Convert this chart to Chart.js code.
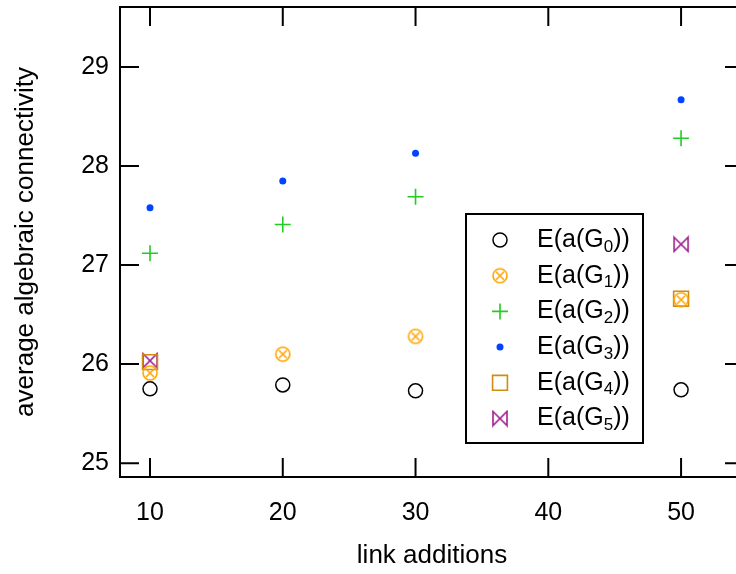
<!DOCTYPE html>
<html>
<head>
<meta charset="utf-8">
<script src="https://cdn.jsdelivr.net/npm/chart.js@4.4.0/dist/chart.umd.min.js"></script>
<style>
  html, body { margin: 0; padding: 0; background: #fff; overflow: hidden; }
  canvas { display: block; margin-top: -11px; }
</style>
</head>
<body>
<canvas id="chart" width="750" height="585"></canvas>
<script>
// values
const linkAdditions = [10, 20, 30, 50];
const g0 = [25.75, 25.79, 25.73, 25.74];
const g1 = [25.91, 26.10, 26.28, 26.65];
const g2 = [27.12, 27.41, 27.69, 28.28];
const g3 = [27.58, 27.85, 28.13, 28.67];
const g4 = [26.02, null, null, 26.66];
const g5 = [26.035, null, null, 27.21];
const subscripts = ['0', '1', '2', '3', '4', '5'];
const xTicks = [10, 20, 30, 40, 50];
const yTicks = [25, 26, 27, 28, 29];

const FONT = "'Liberation Sans', Arial, sans-serif";
const SHIFT = 11; // canvas is pulled up by this much in CSS

function makeMarker(size, draw) {
  const c = document.createElement('canvas');
  c.width = size;
  c.height = size;
  const ctx = c.getContext('2d');
  draw(ctx, size / 2);
  return c;
}

// circle with an x inside
const circleX = makeMarker(18, (ctx, m) => {
  ctx.strokeStyle = '#ffa500';
  ctx.lineWidth = 1.6;
  ctx.beginPath();
  ctx.arc(m, m, 7, 0, Math.PI * 2);
  ctx.stroke();
  ctx.beginPath();
  ctx.moveTo(m - 4, m - 4); ctx.lineTo(m + 4, m + 4);
  ctx.moveTo(m + 4, m - 4); ctx.lineTo(m - 4, m + 4);
  ctx.stroke();
});

// bowtie
const bowtie = makeMarker(18, (ctx, m) => {
  ctx.strokeStyle = '#a0208f';
  ctx.lineWidth = 1.6;
  ctx.beginPath();
  ctx.moveTo(m - 7, m - 7);
  ctx.lineTo(m + 7, m + 7);
  ctx.lineTo(m + 7, m - 7);
  ctx.lineTo(m - 7, m + 7);
  ctx.closePath();
  ctx.stroke();
});

function toPoints(ys) {
  return linkAdditions.map((x, i) => ({ x: x, y: ys[i] })).filter(p => p.y !== null);
}

const datasets = [
  { data: toPoints(g0), pointStyle: 'circle', pointRadius: 7, pointBorderColor: '#000', pointBackgroundColor: 'transparent', pointBorderWidth: 1.5 },
  { data: toPoints(g1), pointStyle: circleX, pointRadius: 9, pointBorderColor: '#ffa500', pointBackgroundColor: 'transparent', pointBorderWidth: 1 },
  { data: toPoints(g2), pointStyle: 'cross', pointRadius: 8, pointBorderColor: '#22cc22', pointBackgroundColor: '#22cc22', pointBorderWidth: 1.6 },
  { data: toPoints(g3), pointStyle: 'circle', pointRadius: 3.5, pointBorderColor: '#0044ff', pointBackgroundColor: '#0044ff', pointBorderWidth: 0 },
  { data: toPoints(g4), pointStyle: 'rect', pointRadius: 10.5, pointBorderColor: '#d08c10', pointBackgroundColor: 'transparent', pointBorderWidth: 1.6 },
  { data: toPoints(g5), pointStyle: bowtie, pointRadius: 9, pointBorderColor: '#a0208f', pointBackgroundColor: 'transparent', pointBorderWidth: 1 }
];
datasets.forEach((d, i) => { d.label = 'E(a(G' + subscripts[i] + '))'; d.showLine = false; });

// frame with inward ticks on all four sides
const frameTicks = {
  id: 'frameTicks',
  afterDatasetsDraw(chart) {
    const { ctx, chartArea: a, scales } = chart;
    const len = 19;
    ctx.save();
    ctx.strokeStyle = '#000';
    ctx.lineWidth = 2;
    ctx.beginPath();
    xTicks.forEach(v => {
      const px = scales.x.getPixelForValue(v);
      ctx.moveTo(px, a.bottom); ctx.lineTo(px, a.bottom - len);
      ctx.moveTo(px, a.top); ctx.lineTo(px, a.top + len);
    });
    yTicks.forEach(v => {
      const py = scales.y.getPixelForValue(v);
      ctx.moveTo(a.left, py); ctx.lineTo(a.left + len, py);
      ctx.moveTo(a.right, py); ctx.lineTo(a.right - len, py);
    });
    ctx.stroke();
    ctx.strokeRect(a.left, a.top, a.right - a.left, a.bottom - a.top);
    ctx.restore();
  }
};

// boxed legend inside the plot, with subscripts
const boxLegend = {
  id: 'boxLegend',
  afterDraw(chart) {
    const ctx = chart.ctx;
    const box = { x: 466, y: 214 + SHIFT, w: 177, h: 229 };
    ctx.save();
    ctx.fillStyle = '#fff';
    ctx.fillRect(box.x, box.y, box.w, box.h);
    ctx.strokeStyle = '#000';
    ctx.lineWidth = 2;
    ctx.strokeRect(box.x, box.y, box.w, box.h);
    chart.data.datasets.forEach((d, i) => {
      const y = box.y + 26 + i * 35.7;
      ctx.fillStyle = d.pointBackgroundColor;
      ctx.strokeStyle = d.pointBorderColor;
      ctx.lineWidth = d.pointBorderWidth;
      Chart.helpers.drawPoint(ctx, {
        pointStyle: d.pointStyle,
        radius: d.pointRadius,
        rotation: 0,
        borderWidth: d.pointBorderWidth
      }, 500, y);
      ctx.fillStyle = '#000';
      ctx.textBaseline = 'middle';
      ctx.font = '25px ' + FONT;
      let tx = 537;
      ctx.fillText('E(a(G', tx, y);
      tx += ctx.measureText('E(a(G').width;
      ctx.font = '17px ' + FONT;
      ctx.fillText(subscripts[i], tx, y + 7);
      tx += ctx.measureText(subscripts[i]).width;
      ctx.font = '25px ' + FONT;
      ctx.fillText('))', tx, y);
    });
    ctx.restore();
  }
};

new Chart(document.getElementById('chart'), {
  type: 'scatter',
  data: { datasets: datasets },
  plugins: [frameTicks, boxLegend],
  options: {
    responsive: false,
    animation: false,
    layout: { autoPadding: false, padding: { top: 7, right: 6, left: 0, bottom: 0 } },
    plugins: { legend: { display: false }, tooltip: { enabled: false } },
    scales: {
      x: {
        type: 'linear',
        min: 7.74,
        max: 54.74,
        afterFit(s) { s.height = 97; },
        afterBuildTicks(s) { s.ticks = xTicks.map(v => ({ value: v })); },
        grid: { display: false },
        border: { display: false },
        ticks: { color: '#000', font: { size: 25, family: FONT }, padding: 13, maxRotation: 0 },
        title: { display: true, text: 'link additions', color: '#000', font: { size: 26, family: FONT }, padding: { top: 0, bottom: 3 } }
      },
      y: {
        type: 'linear',
        min: 24.86,
        max: 29.606,
        afterFit(s) { s.width = 120; },
        afterBuildTicks(s) { s.ticks = yTicks.map(v => ({ value: v })); },
        grid: { display: false },
        border: { display: false },
        ticks: { color: '#000', font: { size: 25, family: FONT }, padding: 3 },
        title: { display: true, text: 'average algebraic connectivity', color: '#000', font: { size: 26, family: FONT }, padding: { top: 10, bottom: 0 } }
      }
    }
  }
});
</script>
</body>
</html>
